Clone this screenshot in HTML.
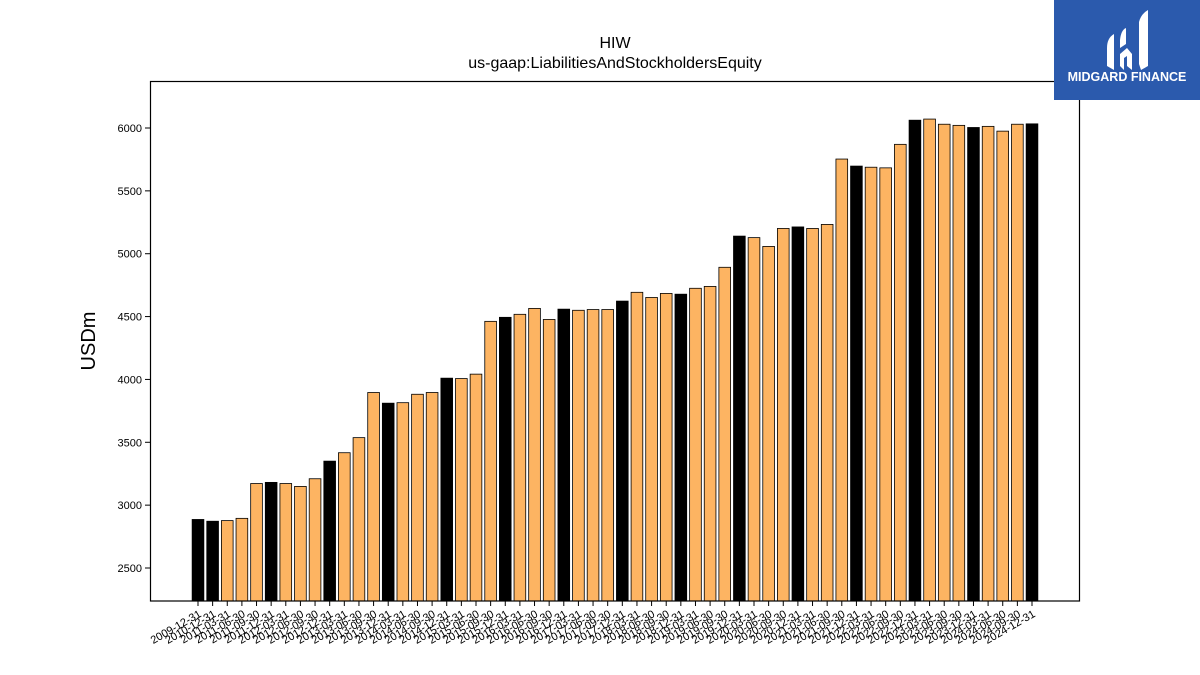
<!DOCTYPE html>
<html><head><meta charset="utf-8"><style>
html,body{margin:0;padding:0;background:#fff;width:1200px;height:675px;overflow:hidden;font-family:"Liberation Sans","DejaVu Sans",sans-serif;}
</style></head><body>
<svg id="chart" width="1200" height="675" xmlns="http://www.w3.org/2000/svg" style="position:absolute;left:0;top:0">
<text x="615" y="48" text-anchor="middle" font-size="16" fill="#000">HIW</text>
<text x="615" y="68" text-anchor="middle" font-size="16" fill="#000">us-gaap:LiabilitiesAndStockholdersEquity</text>
<text x="95" y="341" text-anchor="middle" font-size="20" fill="#000" transform="rotate(-90 95 341)">USDm</text>
<g id="bars"></g>
<g id="yticks"></g>
<g id="xticks"></g>
<rect x="150.5" y="81.5" width="929" height="519.5" fill="none" stroke="#000" stroke-width="1.2"/>
<g>
<rect x="1054" y="0" width="146" height="100" fill="#2b5aad"/>
<path d="M1107 48 Q1107 38 1114 34 L1114 70 L1107 66 Z" fill="#fff"/>
<path d="M1124 28 L1124 46 L1118 50 L1118 66 L1123 70 L1123 58 L1128 52 L1133 58 L1133 70 L1137 66 L1137 30 L1131 22 Z" fill="#fff" opacity="0"/>
<path d="M1120 40 Q1121 30 1126 28 L1126 44 L1120 48 Z" fill="#fff"/>
<path d="M1120 54 L1127 48 L1132 54 L1132 70 L1127 66 L1127 56 L1124 58 L1124 70 L1120 66 Z" fill="#fff"/>
<path d="M1139 22 Q1141 14 1148 10 L1148 66 L1141 70 L1139 64 Z" fill="#fff"/>
<text x="1127" y="81" text-anchor="middle" font-size="12.5" font-weight="bold" fill="#fff">MIDGARD FINANCE</text>
</g>
</svg>
<script>
const categories = ["2009-12-31","2010-12-31"];
for (let y = 2011; y <= 2024; y++) { ["03-31","06-30","09-30","12-31"].forEach(q => categories.push(y + "-" + q)); }
const values = [2886,2872,2877,2895,3172,3181,3172,3149,3210,3350,3417,3537,3896,3811,3815,3882,3896,4010,4007,4042,4462,4494,4518,4565,4477,4559,4550,4556,4556,4623,4693,4652,4684,4678,4725,4740,4892,5140,5128,5058,5201,5213,5201,5233,5753,5697,5688,5683,5870,6062,6071,6030,6021,6004,6013,5975,6030,6033];
const yTicks = [2500,3000,3500,4000,4500,5000,5500,6000];

const NS = "http://www.w3.org/2000/svg";
const yScale = v => 128 + (6000 - v) * (440 / 3500);
const xScale = i => 198 + i * ((1032 - 198) / (categories.length - 1));
const step = (1032 - 198) / (categories.length - 1);
const bw = step * 0.8;
const base = 601;
const bars = document.getElementById("bars");
values.forEach((v, i) => {
  const r = document.createElementNS(NS, "rect");
  
  
  const top = yScale(v);
  r.setAttribute("x", xScale(i) - bw / 2);
  r.setAttribute("y", top);
  r.setAttribute("width", bw);
  r.setAttribute("height", base - top);
  const isQ4 = categories[i].endsWith("12-31");
  r.setAttribute("fill", isQ4 ? "#000" : "#fdb462");
  r.setAttribute("stroke", "#000");
  r.setAttribute("stroke-width", "0.8");
  bars.appendChild(r);
});
const yt = document.getElementById("yticks");
yTicks.forEach(t => {
  const y = yScale(t);
  const l = document.createElementNS(NS, "line");
  
  
  l.setAttribute("x1", 145); l.setAttribute("x2", 150);
  l.setAttribute("y1", y); l.setAttribute("y2", y);
  l.setAttribute("stroke", "#000");
  yt.appendChild(l);
  const tx = document.createElementNS(NS, "text");
  
  
  tx.setAttribute("x", 142); tx.setAttribute("y", y + 4);
  tx.setAttribute("text-anchor", "end");
  tx.setAttribute("font-size", "11");
  tx.textContent = t;
  yt.appendChild(tx);
});
const xt = document.getElementById("xticks");
categories.forEach((c, i) => {
  const x = xScale(i);
  const l = document.createElementNS(NS, "line");
  
  
  l.setAttribute("x1", x); l.setAttribute("x2", x);
  l.setAttribute("y1", 601); l.setAttribute("y2", 606);
  l.setAttribute("stroke", "#000");
  xt.appendChild(l);
  const tx = document.createElementNS(NS, "text");
  
  
  const ty = 616;
  tx.setAttribute("x", x + 4); tx.setAttribute("y", ty);
  tx.setAttribute("text-anchor", "end");
  tx.setAttribute("font-size", "11");
  tx.setAttribute("transform", "rotate(-30 " + (x + 4) + " " + ty + ")");
  tx.textContent = c;
  xt.appendChild(tx);
});
</script>
</body></html>
